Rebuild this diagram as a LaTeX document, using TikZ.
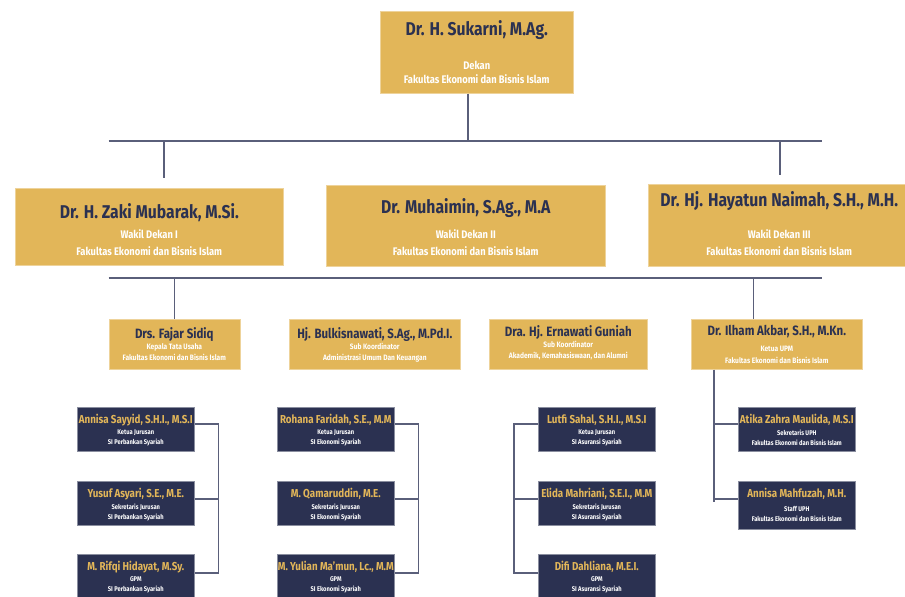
\documentclass[tikz,border=0pt]{standalone}
\usepackage{fontspec}
\setmainfont{Fira Sans}[FakeStretch=0.85]
\usetikzlibrary{calc,positioning}

\definecolor{gold}{HTML}{E2B659}
\definecolor{navy}{HTML}{2B3151}
\definecolor{linkgray}{HTML}{5A5F7A}

\tikzset{
  goldbox/.style={fill=gold, draw=gold!60!white, line width=0.6pt,
    inner sep=0pt, anchor=north west},
  navybox/.style={fill=navy, draw=navy!55!white, line width=0.6pt,
    inner sep=0pt, anchor=north west, minimum width=117, minimum height=44},
  bigname/.style={font=\bfseries\fontsize{18.5}{18.5}\selectfont,
    text=navy, inner sep=0pt},
  bigrole/.style={font=\bfseries\fontsize{11}{14}\selectfont,
    text=white, align=center, inner sep=0pt},
  midname/.style={font=\bfseries\fontsize{13.5}{13.5}\selectfont,
    text=navy, inner sep=0pt},
  midrole/.style={font=\bfseries\fontsize{7.8}{11}\selectfont,
    text=white, align=center, inner sep=0pt},
  smallname/.style={font=\bfseries\fontsize{11.5}{11.5}\selectfont,
    text=gold, inner sep=0pt},
  smallrole/.style={font=\bfseries\fontsize{6.8}{10}\selectfont,
    text=white, align=center, inner sep=0pt},
  link/.style={draw=linkgray, line width=1.4pt},
}

\begin{document}
\begin{tikzpicture}[x=1pt,y=-1pt]
  \useasboundingbox (0,0) rectangle (905,597);
  \clip (0,0) rectangle (905,597);

  % dekan
  \node[goldbox, minimum width=193, minimum height=82] (dekan) at (380,11) {};
  \node[bigname] (dekanN) at ($(dekan.north)+(0,19)$) {Dr. H. Sukarni, M.Ag.};
  \node[bigrole] (dekanR) at ($(dekan.north)+(0,61)$)
    {Dekan\\Fakultas Ekonomi dan Bisnis Islam};

  % wakil dekan
  \node[goldbox, minimum width=268, minimum height=77] (zaki) at (15,188) {};
  \node[bigname] (zakiN) at ($(zaki.north)+(0,25)$) {Dr. H. Zaki Mubarak, M.Si.};
  \node[bigrole] (zakiR) at ($(zaki.north)+(0,55)$)
    {Wakil Dekan I\\[3pt]Fakultas Ekonomi dan Bisnis Islam};
  \node[goldbox, minimum width=279, minimum height=81] (muhaimin) at (326,185) {};
  \node[bigname] (muhaiminN) at ($(muhaimin.north)+(0,23)$) {Dr. Muhaimin, S.Ag., M.A};
  \node[bigrole] (muhaiminR) at ($(muhaimin.north)+(0,57.5)$)
    {Wakil Dekan II\\[3pt]Fakultas Ekonomi dan Bisnis Islam};
  \node[goldbox, minimum width=262, minimum height=82] (hayatun) at (648,184) {};
  \node[bigname] (hayatunN) at ($(hayatun.north)+(0,17)$)
    {Dr. Hj. Hayatun Naimah, S.H., M.H.};
  \node[bigrole] (hayatunR) at ($(hayatun.north)+(0,58.5)$)
    {Wakil Dekan III\\[3pt]Fakultas Ekonomi dan Bisnis Islam};

  % koordinator
  \node[goldbox, minimum width=131, minimum height=50] (fajar) at (108.5,319) {};
  \node[midname] (fajarN) at ($(fajar.north)+(0,16)$) {Drs. Fajar Sidiq};
  \node[midrole] (fajarR) at ($(fajar.north)+(0,33.5)$)
    {Kepala Tata Usaha\\Fakultas Ekonomi dan Bisnis Islam};
  \node[goldbox, minimum width=171, minimum height=50] (bulkis) at (289,319) {};
  \node[midname] (bulkisN) at ($(bulkis.north)+(0,16)$)
    {Hj. Bulkisnawati, S.Ag., M.Pd.I.};
  \node[midrole] (bulkisR) at ($(bulkis.north)+(0,33.5)$)
    {Sub Koordinator\\Administrasi Umum Dan Keuangan};
  \node[goldbox, minimum width=158, minimum height=50] (erna) at (489,319) {};
  \node[midname] (ernaN) at ($(erna.north)+(0,14)$) {Dra. Hj. Ernawati Guniah};
  \node[midrole] (ernaR) at ($(erna.north)+(0,32)$)
    {Sub Koordinator\\Akademik, Kemahasiswaan, dan Alumni};
  \node[goldbox, minimum width=171, minimum height=50] (ilham) at (691,319) {};
  \node[midname] (ilhamN) at ($(ilham.north)+(0,13)$) {Dr. Ilham Akbar, S.H., M.Kn.};
  \node[midrole] (ilhamR) at ($(ilham.north)+(0,36)$)
    {Ketua UPM\\[1pt]Fakultas Ekonomi dan Bisnis Islam};

  % perbankan syariah
  \node[navybox] (perb1) at (77,407) {};
  \node[smallname] (perb1N) at ($(perb1.north)+(0,13)$) {Annisa Sayyid, S.H.I., M.S.I};
  \node[smallrole] (perb1R) at ($(perb1.north)+(0,31)$) {Ketua Jurusan\\SI Perbankan Syariah};
  \node[navybox] (perb2) at (77,481) {};
  \node[smallname] (perb2N) at ($(perb2.north)+(0,13)$) {Yusuf Asyari, S.E., M.E.};
  \node[smallrole] (perb2R) at ($(perb2.north)+(0,31)$) {Sekretaris Jurusan\\SI Perbankan Syariah};
  \node[navybox] (perb3) at (77,554) {};
  \node[smallname] (perb3N) at ($(perb3.north)+(0,13)$) {M. Rifqi Hidayat, M.Sy.};
  \node[smallrole] (perb3R) at ($(perb3.north)+(0,31)$) {GPM\\SI Perbankan Syariah};

  % ekonomi syariah
  \node[navybox] (ekon1) at (277,407) {};
  \node[smallname] (ekon1N) at ($(ekon1.north)+(0,13)$) {Rohana Faridah, S.E., M.M};
  \node[smallrole] (ekon1R) at ($(ekon1.north)+(0,31)$) {Ketua Jurusan\\SI Ekonomi Syariah};
  \node[navybox] (ekon2) at (277,481) {};
  \node[smallname] (ekon2N) at ($(ekon2.north)+(0,13)$) {M. Qamaruddin, M.E.};
  \node[smallrole] (ekon2R) at ($(ekon2.north)+(0,31)$) {Sekretaris Jurusan\\SI Ekonomi Syariah};
  \node[navybox] (ekon3) at (277,554) {};
  \node[smallname] (ekon3N) at ($(ekon3.north)+(0,13)$) {M. Yulian Ma'mun, Lc., M.M};
  \node[smallrole] (ekon3R) at ($(ekon3.north)+(0,31)$) {GPM\\SI Ekonomi Syariah};

  % asuransi syariah
  \node[navybox] (asur1) at (538,407) {};
  \node[smallname] (asur1N) at ($(asur1.north)+(0,13)$) {Lutfi Sahal, S.H.I., M.S.I};
  \node[smallrole] (asur1R) at ($(asur1.north)+(0,31)$) {Ketua Jurusan\\SI Asuransi Syariah};
  \node[navybox] (asur2) at (538,481) {};
  \node[smallname] (asur2N) at ($(asur2.north)+(0,13)$) {Elida Mahriani, S.E.I., M.M};
  \node[smallrole] (asur2R) at ($(asur2.north)+(0,31)$) {Sekretaris Jurusan\\SI Asuransi Syariah};
  \node[navybox] (asur3) at (538,554) {};
  \node[smallname] (asur3N) at ($(asur3.north)+(0,13)$) {Difi Dahliana, M.E.I.};
  \node[smallrole] (asur3R) at ($(asur3.north)+(0,31)$) {GPM\\SI Asuransi Syariah};

  % upm
  \node[navybox] (upm1) at (738,407) {};
  \node[smallname] (upm1N) at ($(upm1.north)+(0,13)$) {Atika Zahra Maulida, M.S.I};
  \node[smallrole] (upm1R) at ($(upm1.north)+(0,31)$)
    {Sekretaris UPH\\Fakultas Ekonomi dan Bisnis Islam};
  \node[navybox, minimum height=48] (upm2) at (738,481) {};
  \node[smallname] (upm2N) at ($(upm2.north)+(0,13)$) {Annisa Mahfuzah, M.H.};
  \node[smallrole] (upm2R) at ($(upm2.north)+(0,32.5)$)
    {Staff UPH\\Fakultas Ekonomi dan Bisnis Islam};

  % connectors
  \coordinate (hub1) at (468,141);
  \coordinate (bar1L) at (108.5,141);
  \coordinate (bar1R) at (822,141);
  \coordinate (tick1) at (164,141);
  \coordinate (tick3) at (780,141);
  \draw[link] (bar1L) -- (bar1R);
  \draw[link] (dekan.south -| hub1) -- (hub1);
  \draw[link] (tick1) -- ($(tick1 |- zaki.north)+(0,-10)$);
  \draw[link] (tick3) -- ($(tick3 |- hayatun.north)+(0,-9)$);

  \coordinate (bar2L) at (108.5,278);
  \coordinate (bar2R) at (822,278);
  \coordinate (tick4) at (753.6,278);
  \draw[link] (bar2L) -- (bar2R);
  \draw[link] (fajar.north |- bar2L) -- (fajar.north);
  \draw[link] (tick4) -- (tick4 |- ilham.north);

  \draw[link] ($(perb1.north east)+(0,17)$) -| ($(perb3.north east)+(24,19)$)
    -- ($(perb3.north east)+(0,19)$);
  \draw[link] ($(perb2.north east)+(0,18)$) -- +(24,0);
  \draw[link] ($(ekon1.north east)+(0,17)$) -| ($(ekon3.north east)+(24,19)$)
    -- ($(ekon3.north east)+(0,19)$);
  \draw[link] ($(ekon2.north east)+(0,18)$) -- +(24,0);
  \draw[link] ($(asur1.north west)+(0,17)$) -| ($(asur3.north west)+(-24,19)$)
    -- ($(asur3.north west)+(0,19)$);
  \draw[link] ($(asur2.north west)+(0,18)$) -- +(-24,0);
  \coordinate (upmline) at (714,0);
  \draw[link] (ilham.south -| upmline) -- ($(upm2.north west)+(-24,21)$);
  \draw[link] ($(upm1.north west)+(0,17)$) -- +(-24,0);
  \draw[link] ($(upm2.north west)+(0,18)$) -- +(-24,0);
\end{tikzpicture}
\end{document}
